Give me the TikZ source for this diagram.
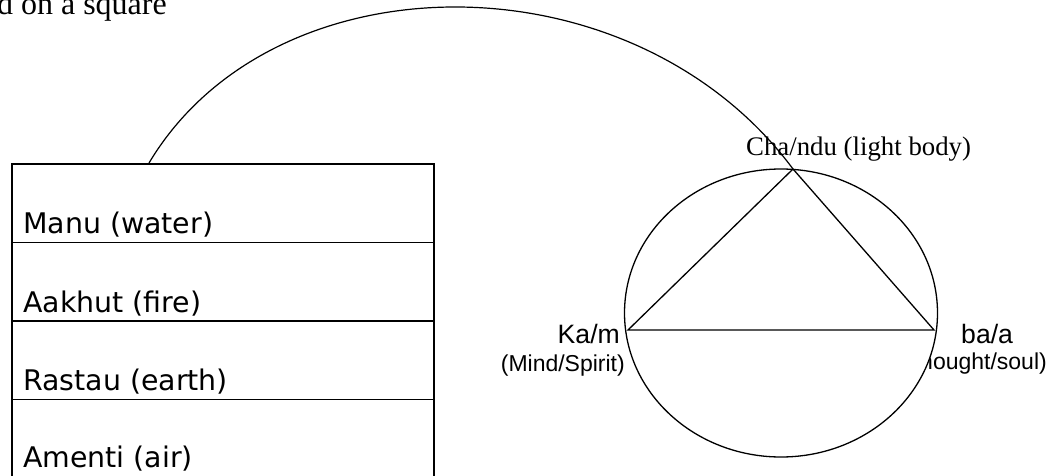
\documentclass[tikz,border=0pt]{standalone}
\usepackage{fontspec}
\setmainfont{Liberation Serif}
\newfontfamily\tahoma{DejaVu Sans}
\newfontfamily\arial{Liberation Sans}
\usetikzlibrary{shapes.geometric}
\tikzset{
  rowbox/.style={draw, line width=1.5pt, minimum width=422pt, minimum height=78.5pt, inner sep=0pt, anchor=north west},
  rowtext/.style={anchor=base west, inner sep=0pt, font=\tahoma\fontsize{28.4}{34}\selectfont},
  serifbig/.style={inner sep=0pt, font=\fontsize{32}{38}\selectfont},
  seriflabel/.style={inner sep=0pt, font=\fontsize{26.8}{32}\selectfont},
  sanslabel/.style={inner sep=0pt, font=\arial\fontsize{26.6}{32}\selectfont},
  sanssmall/.style={inner sep=0pt, font=\arial\fontsize{23}{28}\selectfont},
  thinline/.style={line width=1.3pt},
}
\begin{document}
\begin{tikzpicture}[x=1pt,y=-1pt]
\useasboundingbox (0,0) rectangle (1054,476);
% caption fragment
\node[serifbig, anchor=base east] (cap) at (167,14.5) {d on a square};
% stacked box
\node[rowbox] (r1) at (11,163) {};
\node[rowbox] (r2) at (11,241.5) {};
\node[rowbox] (r3) at (11,320) {};
\node[rowbox, minimum height=90pt] (r4) at (11,398.5) {};
\node[rowtext] (t1) at (23,233.3) {Manu (water)};
\node[rowtext] (t2) at (23,312.3) {Aakhut (fire)};
\node[rowtext] (t3) at (23,390.7) {Rastau (earth)};
\node[rowtext] (t4) at (23,467.3) {Amenti (air)};
% labels around the circle
\node[sanssmall, anchor=base east] (thought) at (1047,369) {(thought/soul)};
\node[draw, thinline, fill=white, ellipse, inner sep=0pt, minimum width=313pt, minimum height=288pt] (circ) at (781,313) {};
\node[seriflabel, anchor=base west] (chandu) at (746,155.5) {Cha/ndu (light body)};
\node[sanslabel, anchor=base east] (kam) at (620,343.5) {Ka/m};
\node[sanssmall, anchor=base east] (mind) at (625,371) {(Mind/Spirit)};
\node[sanslabel, anchor=base west] (baa) at (961,343) {ba/a};
% triangle
\coordinate (top) at (793,169);
\coordinate (L) at (628,330);
\coordinate (R) at (934,330);
\draw[thinline, line join=miter] (L) -- (top) -- (R) -- cycle;
% big arc
\coordinate (boxarc) at (149,163);
\draw[line width=1.2pt] (boxarc) .. controls (274,-46) and (633,-46) .. (top);
\end{tikzpicture}
\end{document}
